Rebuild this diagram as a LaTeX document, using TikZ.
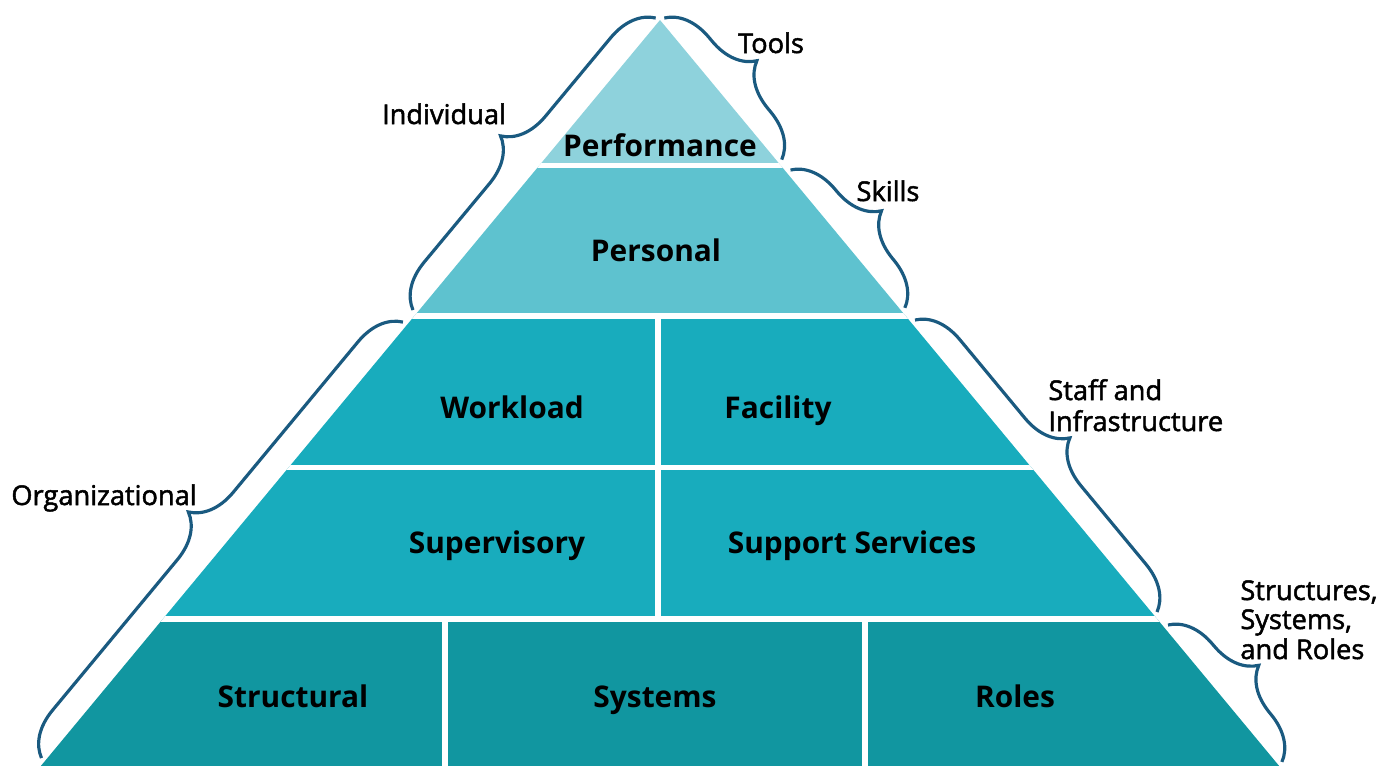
\documentclass[tikz,border=0pt]{standalone}
\usepackage{fontspec}
\setmainfont{Open Sans}
\newfontfamily\lblfont[FakeBold=1.8]{Open Sans}
\usetikzlibrary{decorations.pathreplacing}
\definecolor{cperf}{RGB}{142,210,220}
\definecolor{cpers}{RGB}{94,194,207}
\definecolor{cmid}{RGB}{24,172,189}
\definecolor{cbot}{RGB}{17,150,160}
\definecolor{cbrace}{RGB}{26,90,128}
\tikzset{
  bold text/.style={font=\bfseries\fontsize{17}{19}\selectfont, text=black, inner sep=0pt, anchor=base},
  side label/.style={font=\lblfont\fontsize{15.5}{18}\selectfont, text=black, inner sep=0pt, anchor=base},
  bracebox/.style={draw=cbrace, line width=1.8pt, decorate, decoration={brace, amplitude=0.88cm}},
  gap/.style={draw=white, line width=3pt},
}
\begin{document}
\begin{tikzpicture}[x=0.02cm, y=-0.02cm]
\useasboundingbox (0,0) rectangle (1387,765);
% pyramid bands
\begin{scope}
\clip (660,20) -- ({660+0.83*800},820) -- ({660-0.83*800},820) -- cycle;
\fill[cperf] (0,0) rectangle (1387,165.5);
\fill[cpers] (0,165.5) rectangle (1387,316);
\fill[cmid] (0,316) rectangle (1387,619);
\fill[cbot] (0,619) rectangle (1387,830);
\draw[gap] (0,165.5) -- (1387,165.5);
\draw[gap] (0,316) -- (1387,316);
\draw[gap] (0,467.5) -- (1387,467.5);
\draw[gap] (0,619) -- (1387,619);
\draw[gap] (658,316) -- (658,619);
\draw[gap] (445,619) -- (445,830);
\draw[gap] (865,619) -- (865,830);
\end{scope}
% band labels (anchored at baseline)
\node[bold text] (perf) at (660,156) {Performance};
\node[bold text] (pers) at (656,261) {Personal};
\node[bold text] (work) at (512,418) {Workload};
\node[bold text] (fac) at (778,418) {Facility};
\node[bold text] (sup) at (497,553) {Supervisory};
\node[bold text] (supp) at (852,553) {Support Services};
\node[bold text] (struc) at (293,707) {Structural};
\node[bold text] (sys) at (655,707) {Systems};
\node[bold text] (roles) at (1015,707) {Roles};
% brace end points
\coordinate (i1) at (413,310);
\coordinate (i2) at (655.7,18);
\coordinate (t1) at (664.3,18);
\coordinate (t2) at (782,160);
\coordinate (s1) at (790.5,170);
\coordinate (s2) at (905,308);
\coordinate (f1) at (915,320);
\coordinate (f2) at (1157,612);
\coordinate (r1) at (1168,625);
\coordinate (r2) at (1282,762);
\coordinate (o1) at (41.5,758);
\coordinate (o2) at (403,322);
\draw[bracebox] (i1) -- (i2);
\draw[bracebox] (t1) -- (t2);
\draw[bracebox] (s1) -- (s2);
\draw[bracebox] (f1) -- (f2);
\draw[bracebox] (r1) -- (r2);
\draw[bracebox] (o1) -- (o2);
% side labels
\node[side label] (ltools) at (771,53) {Tools};
\node[side label] (lind) at (444,124) {Individual};
\node[side label] (lskills) at (888,201) {Skills};
\node[side label, anchor=base west] (lstaff1) at (1048,400) {Staff and};
\node[side label, anchor=base west] (lstaff2) at (1048,431) {Infrastructure};
\node[side label] (lorg) at (104,505) {Organizational};
\node[side label, anchor=base west] (lssr1) at (1240,600) {Structures,};
\node[side label, anchor=base west] (lssr2) at (1240,629) {Systems,};
\node[side label, anchor=base west] (lssr3) at (1240,659) {and Roles};
\end{tikzpicture}
\end{document}
